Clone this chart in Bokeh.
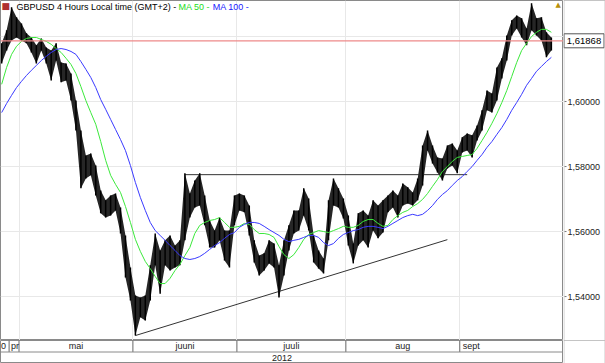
import numpy as np
import pandas as pd
from bokeh.plotting import figure
from bokeh.models import (Range1d, FixedTicker, Span, Label, Grid, ColumnDataSource)
from bokeh.layouts import column, row
from bokeh.core.properties import value
from bokeh.embed import file_html
from bokeh.resources import INLINE

# ---------------- data ----------------
dates = pd.bdate_range("2012-04-25", periods=112)

high = [1.6179, 1.6219, 1.6290, 1.6259, 1.6240, 1.6210, 1.6197, 1.6173, 1.6194, 1.6166,
        1.6157, 1.6179, 1.6120, 1.6117, 1.6086, 1.6003, 1.5911, 1.5834, 1.5840, 1.5803,
        1.5726, 1.5696, 1.5711, 1.5717, 1.5674, 1.5588, 1.5489, 1.5403, 1.5397, 1.5403,
        1.5496, 1.5594, 1.5542, 1.5573, 1.5588, 1.5557, 1.5573, 1.5779, 1.5717, 1.5757,
        1.5779, 1.5711, 1.5634, 1.5603, 1.5643, 1.5603, 1.5603, 1.5711, 1.5717, 1.5711,
        1.5680, 1.5573, 1.5526, 1.5533, 1.5573, 1.5563, 1.5496, 1.5573, 1.5619, 1.5665,
        1.5665, 1.5733, 1.5702, 1.5588, 1.5542, 1.5517, 1.5696, 1.5763, 1.5733, 1.5702,
        1.5649, 1.5563, 1.5656, 1.5665, 1.5649, 1.5696, 1.5680, 1.5696, 1.5711, 1.5726,
        1.5711, 1.5748, 1.5736, 1.5720, 1.5763, 1.5865, 1.5911, 1.5865, 1.5828, 1.5825,
        1.5865, 1.5871, 1.5849, 1.5890, 1.5902, 1.5896, 1.5926, 1.5973, 1.6034, 1.6025,
        1.6105, 1.6133, 1.6203, 1.6250, 1.6265, 1.6256, 1.6225, 1.6302, 1.6256, 1.6259,
        1.6213, 1.6197]

low = [1.6117, 1.6157, 1.6188, 1.6197, 1.6188, 1.6179, 1.6151, 1.6117, 1.6157, 1.6117,
       1.6065, 1.6126, 1.6059, 1.6065, 1.6003, 1.5911, 1.5733, 1.5763, 1.5773, 1.5711,
       1.5656, 1.5643, 1.5649, 1.5665, 1.5594, 1.5459, 1.5388, 1.5280, 1.5336, 1.5326,
       1.5388, 1.5496, 1.5409, 1.5496, 1.5480, 1.5489, 1.5496, 1.5573, 1.5643, 1.5674,
       1.5680, 1.5619, 1.5551, 1.5551, 1.5573, 1.5511, 1.5489, 1.5619, 1.5665, 1.5659,
       1.5588, 1.5505, 1.5465, 1.5480, 1.5502, 1.5489, 1.5397, 1.5465, 1.5542, 1.5594,
       1.5603, 1.5649, 1.5603, 1.5505, 1.5486, 1.5471, 1.5573, 1.5680, 1.5674, 1.5640,
       1.5557, 1.5502, 1.5557, 1.5573, 1.5551, 1.5603, 1.5579, 1.5597, 1.5659, 1.5674,
       1.5643, 1.5680, 1.5686, 1.5680, 1.5696, 1.5742, 1.5849, 1.5809, 1.5782, 1.5757,
       1.5794, 1.5803, 1.5779, 1.5843, 1.5849, 1.5828, 1.5880, 1.5911, 1.5973, 1.5966,
       1.6003, 1.6071, 1.6126, 1.6203, 1.6225, 1.6197, 1.6173, 1.6219, 1.6203, 1.6188,
       1.6136, 1.6157]

ma50 = [1.6053, 1.6105, 1.6145, 1.6170, 1.6185, 1.6194, 1.6197, 1.6197, 1.6191, 1.6185,
        1.6176, 1.6163, 1.6151, 1.6133, 1.6114, 1.6086, 1.6046, 1.6003, 1.5966, 1.5930,
        1.5877, 1.5819, 1.5773, 1.5745, 1.5720, 1.5677, 1.5628, 1.5576, 1.5539, 1.5508,
        1.5486, 1.5462, 1.5440, 1.5440, 1.5456, 1.5480, 1.5499, 1.5526, 1.5551, 1.5594,
        1.5619, 1.5628, 1.5634, 1.5637, 1.5643, 1.5628, 1.5613, 1.5613, 1.5616, 1.5625,
        1.5622, 1.5606, 1.5594, 1.5594, 1.5591, 1.5582, 1.5554, 1.5529, 1.5517, 1.5529,
        1.5551, 1.5576, 1.5591, 1.5597, 1.5603, 1.5600, 1.5597, 1.5603, 1.5609, 1.5616,
        1.5613, 1.5613, 1.5619, 1.5631, 1.5637, 1.5637, 1.5625, 1.5616, 1.5619, 1.5637,
        1.5649, 1.5659, 1.5665, 1.5677, 1.5686, 1.5699, 1.5717, 1.5739, 1.5760, 1.5785,
        1.5800, 1.5816, 1.5828, 1.5831, 1.5834, 1.5837, 1.5856, 1.5880, 1.5905, 1.5933,
        1.5963, 1.5997, 1.6034, 1.6077, 1.6120, 1.6157, 1.6179, 1.6200, 1.6213, 1.6222,
        1.6222, 1.6213]

ma100 = [1.5966, 1.5994, 1.6019, 1.6043, 1.6062, 1.6080, 1.6096, 1.6111, 1.6126, 1.6139,
         1.6151, 1.6160, 1.6163, 1.6160, 1.6154, 1.6145, 1.6123, 1.6099, 1.6074, 1.6043,
         1.6006, 1.5976, 1.5945, 1.5914, 1.5883, 1.5849, 1.5803, 1.5751, 1.5705, 1.5665,
         1.5628, 1.5603, 1.5588, 1.5573, 1.5557, 1.5542, 1.5526, 1.5517, 1.5514, 1.5517,
         1.5523, 1.5533, 1.5545, 1.5557, 1.5566, 1.5579, 1.5591, 1.5597, 1.5613, 1.5622,
         1.5628, 1.5628, 1.5625, 1.5616, 1.5606, 1.5597, 1.5588, 1.5576, 1.5569, 1.5573,
         1.5576, 1.5582, 1.5588, 1.5588, 1.5582, 1.5566, 1.5557, 1.5563, 1.5579, 1.5591,
         1.5597, 1.5603, 1.5606, 1.5613, 1.5616, 1.5616, 1.5613, 1.5609, 1.5616, 1.5625,
         1.5634, 1.5643, 1.5649, 1.5653, 1.5649, 1.5653, 1.5665, 1.5680, 1.5699, 1.5714,
         1.5726, 1.5742, 1.5757, 1.5769, 1.5785, 1.5800, 1.5819, 1.5837, 1.5859, 1.5877,
         1.5899, 1.5920, 1.5945, 1.5973, 1.5997, 1.6022, 1.6050, 1.6071, 1.6093, 1.6108,
         1.6123, 1.6136]

last_price = 1.61868
last_price_label = "1,61868"
price_ticks = [1.54, 1.56, 1.58, 1.60, 1.62]
price_tick_labels = ["1,54000", "1,56000", "1,58000", "1,60000", "1,62000"]

month_labels = ["mai", "juuni", "juuli", "aug", "sept"]
year_label = "2012"
title_text = "GBPUSD 4 Hours Local time (GMT+2)  -"
ma50_text = "MA 50 -"
ma100_text = "MA 100 -"

# user-drawn trend lines (date index, price)
resistance_idx = [37, 94]
resistance_price = [1.5775, 1.5775]
support_idx = [27, 90]
support_price = [1.5280, 1.5575]

# ---------------- layout constants ----------------
W_PLOT = 563
W_AXIS = 42
H_MAIN = 340
H_BAND = 23
FONT = "Liberation Sans"
BORDER = "#8a8a8a"

n = len(dates)
xpos = np.arange(n) + 0.5
src = ColumnDataSource(dict(x=xpos, high=high, low=low, ma50=ma50, ma100=ma100))

month_starts = [i for i in range(1, n) if dates[i].month != dates[i - 1].month]

x_range = Range1d(0.264, 113.95)
y_range = Range1d(1.52648, 1.63108)


def bare(width, height, xr, yr):
    f = figure(width=width, height=height, x_range=xr, y_range=yr,
               toolbar_location=None, output_backend="svg",
               x_axis_location=None, y_axis_location=None,
               min_border_left=0, min_border_right=0,
               min_border_top=0, min_border_bottom=0,
               outline_line_color=BORDER, background_fill_color="white",
               border_fill_color="white")
    f.center = [r for r in f.center if not isinstance(r, Grid)]
    return f


# ---------------- main price panel ----------------
p = bare(W_PLOT, H_MAIN, x_range, y_range)
p.add_layout(Grid(dimension=0, ticker=FixedTicker(ticks=[float(m) for m in month_starts]),
                  grid_line_color="#e8e8e8"))
p.add_layout(Grid(dimension=1, ticker=FixedTicker(ticks=price_ticks),
                  grid_line_color="#e8e8e8"))

p.add_layout(Span(location=last_price, dimension="width", line_color="#ee8a8a", line_width=1.3))

p.line(x=[support_idx[0] + 0.5, support_idx[1] + 0.5], y=support_price,
       line_color="#333333", line_width=1)
p.line(x=[resistance_idx[0] + 0.5, resistance_idx[1] + 0.5], y=resistance_price,
       line_color="#333333", line_width=1)

p.varea(x="x", y1="low", y2="high", source=src, fill_color="#262626")
p.segment(x0="x", y0="low", x1="x", y1="high", source=src, line_color="black", line_width=1.5)

p.line(x="x", y="ma50", source=src, line_color="#3be83b", line_width=1)
p.line(x="x", y="ma100", source=src, line_color="#3a3aff", line_width=1)

top_y = 1.6306
p.add_layout(Label(x=3.5, y=top_y, text=title_text, text_baseline="top",
                   text_font=FONT, text_font_size="9px", text_color="black"))
p.add_layout(Label(x=36.2, y=top_y, text=ma50_text, text_baseline="top",
                   text_font=FONT, text_font_size="9px", text_color="#22dd22"))
p.add_layout(Label(x=43.1, y=top_y, text=ma100_text, text_baseline="top",
                   text_font=FONT, text_font_size="9px", text_color="#2020ff"))
p.add_layout(Label(x=x_range.start, y=1.6308, x_offset=1, text="\u25a0", text_baseline="top",
                   text_font="DejaVu Sans", text_font_size="9px", text_color="#b03030"))
p.add_layout(Label(x=x_range.end, y=1.6309, x_offset=-8, text="\u25b2", text_baseline="top",
                   text_font="DejaVu Sans", text_font_size="7px", text_color="#b8900b"))

# ---------------- price scale panel (right) ----------------
s = bare(W_AXIS, H_MAIN, Range1d(0, W_AXIS), y_range)
s.outline_line_color = None
s.add_layout(Span(location=0.5, dimension="height", line_color="#9a9a9a", line_dash="1 1"))
s.add_layout(Span(location=W_AXIS - 0.5, dimension="height", line_color="#c8c8c8"))
s.add_layout(Span(location=y_range.end, dimension="width", line_color=BORDER))
s.add_layout(Span(location=y_range.start, dimension="width", line_color=BORDER))
s.segment(x0=[1] * len(price_ticks), y0=price_ticks, x1=[3] * len(price_ticks), y1=price_ticks,
          line_color="#777777")
s.text(x=[4] * len(price_ticks), y=price_ticks, text=price_tick_labels,
       text_align="left", text_baseline="middle", text_font=value(FONT),
       text_font_size="9px", text_color="#222222")
s.rect(x=[20.5], y=[last_price], width=[40], height=[14], height_units="screen",
       fill_color="white", line_color="#555555", line_width=1)
s.text(x=[20.5], y=[last_price], text=[last_price_label], text_align="center",
       text_baseline="middle", text_font=value(FONT), text_font_size="9.5px",
       text_color="black")

# ---------------- date band ----------------
b = bare(W_PLOT, H_BAND, x_range, Range1d(0, 2))
bounds = [2.0] + [float(m) for m in month_starts]
b.segment(x0=bounds, y0=[1] * len(bounds), x1=bounds, y1=[2] * len(bounds),
          line_color="#666666", line_width=1)
b.add_layout(Span(location=1, dimension="width", line_color=BORDER, line_width=1))

edges = month_starts + [n]
centers = [(edges[i] + edges[i + 1]) / 2 for i in range(len(month_labels) - 1)]
b.text(x=centers, y=[1.5] * len(centers), text=month_labels[:-1], text_align="center",
       text_baseline="middle", text_font=value(FONT), text_font_size="9px",
       text_color="#222222")
b.text(x=[float(month_starts[-1])], y=[1.5], text=[month_labels[-1]], x_offset=3,
       text_align="left", text_baseline="middle", text_font=value(FONT),
       text_font_size="9px", text_color="#222222")
b.text(x=[2.0], y=[1.5], text=["pr"], x_offset=2, text_align="left",
       text_baseline="middle", text_font=value(FONT), text_font_size="9px",
       text_color="#222222")
b.text(x=[2.0], y=[1.5], text=["0"], x_offset=-3, text_align="right",
       text_baseline="middle", text_font=value(FONT), text_font_size="9px",
       text_color="#222222")
b.text(x=[(x_range.start + x_range.end) / 2], y=[0.5], text=[year_label],
       text_align="center", text_baseline="middle", text_font=value(FONT),
       text_font_size="9px", text_color="#222222")

sb = bare(W_AXIS, H_BAND, Range1d(0, W_AXIS), Range1d(0, 2))
sb.outline_line_color = None
sb.add_layout(Span(location=0.5, dimension="height", line_color="#9a9a9a", line_dash="1 1"))
sb.add_layout(Span(location=W_AXIS - 0.5, dimension="height", line_color="#c8c8c8"))
sb.add_layout(Span(location=2, dimension="width", line_color=BORDER))
sb.add_layout(Span(location=0, dimension="width", line_color=BORDER))

layout = row(column(p, b, spacing=0), column(s, sb, spacing=0), spacing=0)
open("out.html", "w").write(file_html(layout, INLINE))
